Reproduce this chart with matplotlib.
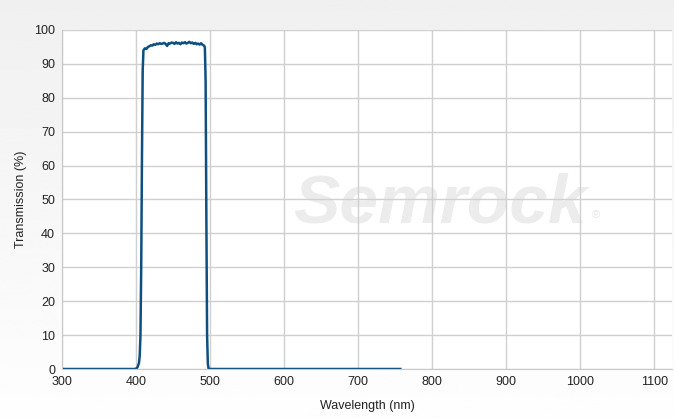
import numpy as np
import matplotlib.pyplot as plt

plt.rcParams['font.family'] = ['Liberation Sans', 'DejaVu Sans']

# transmission curve
wavelength = [300, 350, 398, 400, 402, 404, 405, 406, 407, 408, 409, 410,
              412, 414, 416, 418, 420, 422, 424, 426, 428, 430, 432, 434,
              436, 438, 440, 442, 444, 446, 448, 450, 452, 454, 456, 458,
              460, 462, 464, 466, 468, 470, 472, 474, 476, 478, 480, 482,
              484, 486, 488, 490, 492, 493, 494, 495, 496, 497, 498, 500,
              550, 600, 650, 700, 757]
transmission = [0, 0, 0, 0.1, 0.5, 1.8, 4, 10, 30, 62, 88, 94.0,
                94.6, 94.4, 95.0, 95.2, 95.5, 95.4, 95.8, 95.6, 96.0, 95.8, 96.1, 95.9,
                96.0, 96.2, 95.9, 95.3, 96.1, 96.0, 96.3, 96.2, 95.9, 96.4, 96.0, 96.2,
                95.8, 96.3, 96.1, 96.4, 96.0, 96.2, 96.5, 96.1, 96.3, 95.9, 96.2, 95.8,
                96.0, 95.7, 96.1, 95.6, 95.4, 94.8, 85, 45, 10, 1.5, 0.2, 0,
                0, 0, 0, 0, 0]

x_ticks = [300, 400, 500, 600, 700, 800, 900, 1000, 1100]
y_ticks = [0, 10, 20, 30, 40, 50, 60, 70, 80, 90, 100]

fig = plt.figure(figsize=(6.74, 4.19), dpi=100)

# soft grey gradient background
bg = fig.add_axes([0, 0, 1, 1], zorder=-10)
grad = np.linspace(0.94, 0.995, 256).reshape(-1, 1)
bg.imshow(grad, aspect='auto', cmap='gray', vmin=0, vmax=1, extent=[0, 1, 0, 1])
bg.axis('off')

ax = fig.add_axes([62 / 674, 50 / 419, 610 / 674, 339 / 419])
ax.set_facecolor('white')
ax.plot(wavelength, transmission, color='#0f4f80', lw=1.8, solid_joinstyle='round')

ax.set_xlim(300, 1124)
ax.set_ylim(0, 100)
ax.set_xticks(x_ticks)
ax.set_yticks(y_ticks)
ax.grid(True, color='#d0d0d0', lw=1)
ax.set_axisbelow(True)
ax.tick_params(length=0, labelsize=9, colors='#222222', pad=5)
for s in ['top', 'right']:
    ax.spines[s].set_visible(False)
for s in ['left', 'bottom']:
    ax.spines[s].set_color('#c8c8c8')
ax.set_xlabel('Wavelength (nm)', fontsize=9, color='#222222', labelpad=9)
ax.set_ylabel('Transmission (%)', fontsize=9, color='#222222', labelpad=5)

# faint watermark
ax.text(0.62, 0.485, 'Semrock', transform=ax.transAxes, fontsize=50,
        fontstyle='italic', fontweight='bold', color='#ececec',
        ha='center', va='center', zorder=0.5)
ax.text(0.875, 0.455, '\u00ae', transform=ax.transAxes, fontsize=8,
        color='#e6e6e6', ha='center', va='center', zorder=0.5)

fig.savefig('out.png', dpi=100)
